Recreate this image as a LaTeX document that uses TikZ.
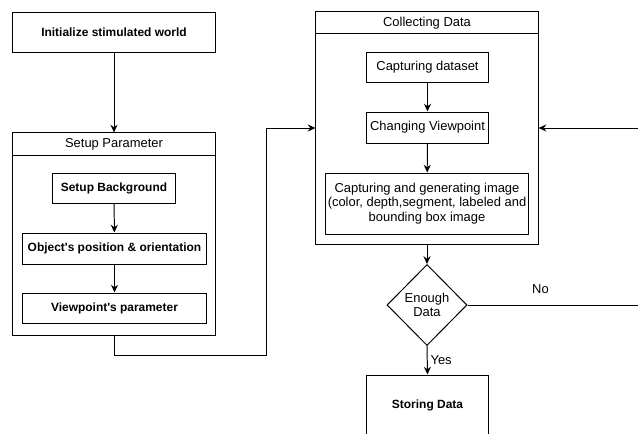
\documentclass[tikz,border=0pt]{standalone}
\usepackage{fontspec}
\setmainfont{Liberation Sans}
\usepackage{tikz}
\usetikzlibrary{arrows.meta,shapes.geometric,positioning}

\tikzset{
    blk/.style={draw, align=center, inner sep=0pt, font=\fontsize{8.5}{10.3}\selectfont\bfseries},
    lite/.style={draw, align=center, inner sep=0pt, font=\fontsize{9.2}{10.3}\selectfont},
    frame/.style={draw, inner sep=0pt},
    head/.style={lite, anchor=north},
    dia/.style={lite, diamond, aspect=1},
    flow/.style={-{Stealth[length=5.5pt,width=5pt]}},
    tag/.style={font=\fontsize{9.2}{10.3}\selectfont, inner sep=2pt}
}

\begin{document}
\begin{tikzpicture}[x=0.025cm, y=-0.025cm, line width=0.7pt]
            \useasboundingbox (0,0) rectangle (638,434);
            \clip (0,0) rectangle (638,434);

            \node[blk, minimum width=5.05cm, minimum height=1cm] (init) at (114,32) {Initialize stimulated world};

            % setup parameter
            \node[frame, minimum width=5.05cm, minimum height=5.05cm] (setpar) at (114,234) {};
            \node[head, minimum width=5.05cm, minimum height=0.575cm] (setparT) at (setpar.north) {Setup Parameter};
            \node[blk, minimum width=3.05cm, minimum height=0.75cm] (bg) at (114,188) {Setup Background};
            \node[blk, minimum width=4.575cm, minimum height=0.775cm] (objpos) at (114.5,248.5) {Object\textquotesingle s position \& orientation};
            \node[blk, minimum width=4.575cm, minimum height=0.75cm] (vparam) at (114.5,308) {Viewpoint\textquotesingle s parameter};

            % collecting data
            \node[frame, minimum width=5.55cm, minimum height=5.8cm] (collect) at (427,128) {};
            \node[head, minimum width=5.55cm, minimum height=0.55cm] (collectT) at (collect.north) {Collecting Data};
            \node[lite, minimum width=3.025cm, minimum height=0.75cm] (capds) at (427.5,67) {Capturing dataset};
            \node[lite, minimum width=3.025cm, minimum height=0.775cm] (chview) at (427.5,127.5) {Changing Viewpoint};
            \node[lite, minimum width=5.05cm, minimum height=1.525cm] (capgen) at (427,203.5) {Capturing and generating image\\(color, depth,segment, labeled and\\bounding box image};

            \node[dia, minimum width=2cm, minimum height=2.025cm] (enough) at (427,305) {Enough\\Data};
            \node[blk, minimum width=3.025cm, minimum height=1.5cm] (store) at (427.5,405) {Storing Data};

            \coordinate (turn) at (266,355);
            \coordinate (noturn) at (650,305);

            \draw[flow] (init) -- (setparT);
            \draw[flow] (bg) -- (objpos);
            \draw[flow] (objpos) -- (vparam);
            \draw[flow] (setpar.south) |- (turn) |- (collect.west);

            \draw[flow] (capds) -- (chview);
            \draw[flow] (chview) -- (capgen);
            \draw[flow] (collect.south) -- (enough.north);
            \draw[flow] (enough.south) -- node[tag, right] {Yes} (store.north);
            \draw[flow] (enough.east) -- node[tag, pos=0.4, above, yshift=0.19cm] {No} (noturn) |- (collect.east);
\end{tikzpicture}
\end{document}
